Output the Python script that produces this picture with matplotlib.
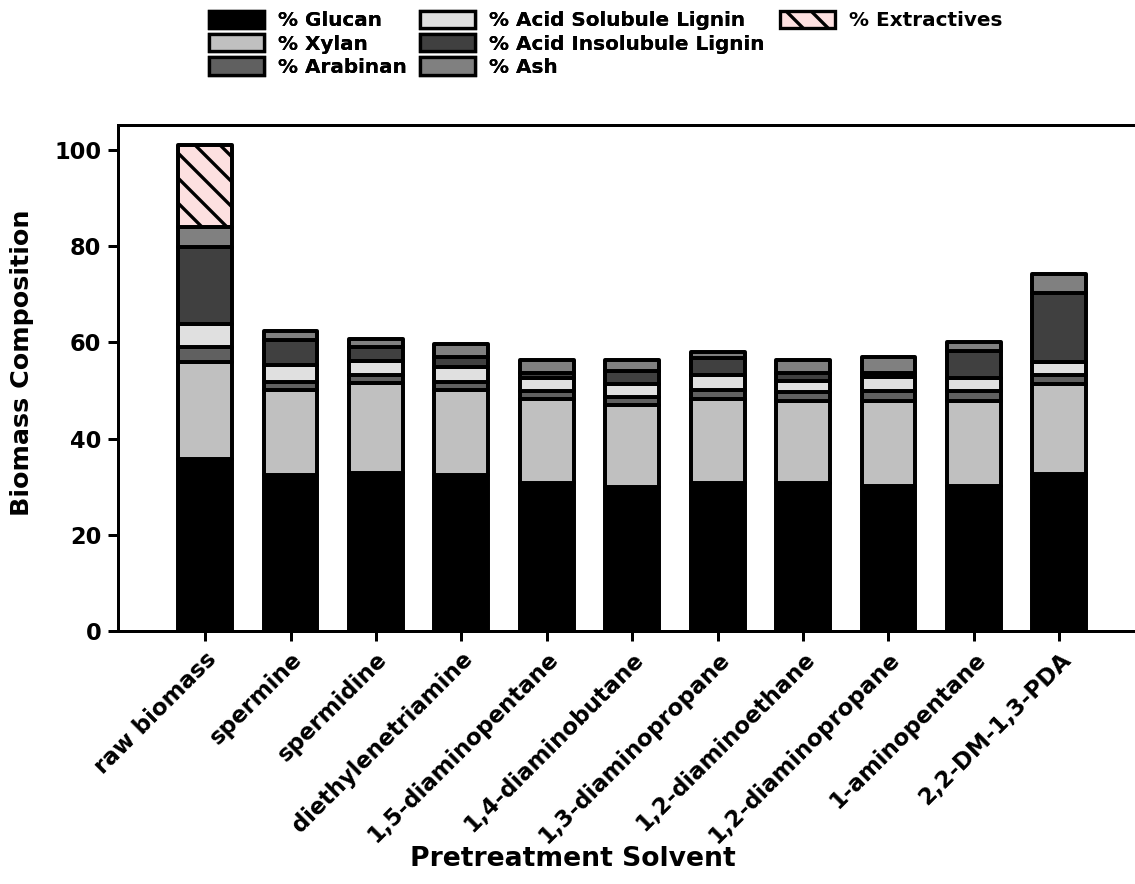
import matplotlib
matplotlib.use("Agg")
import matplotlib.pyplot as plt
import matplotlib.transforms as mtransforms
import numpy as np
from matplotlib.patches import Patch

categories = ['raw biomass', 'spermine', 'spermidine', 'diethylenetriamine',
              '1,5-diaminopentane', '1,4-diaminobutane', '1,3-diaminopropane',
              '1,2-diaminoethane', '1,2-diaminopropane', '1-aminopentane',
              '2,2-DM-1,3-PDA']
glucan = [35.7, 32.4, 32.8, 32.5, 30.8, 30.0, 30.8, 30.7, 30.2, 30.2, 32.6]
xylan = [20.2, 17.7, 18.7, 17.7, 17.5, 17.0, 17.5, 17.2, 17.7, 17.7, 18.7]
arabinan = [3.1, 1.7, 1.7, 1.6, 1.7, 1.7, 1.8, 1.7, 1.9, 1.9, 1.9]
acid_sol_lignin = [4.8, 3.6, 3.0, 3.1, 2.7, 2.6, 3.2, 2.3, 3.1, 2.9, 2.8]
acid_insol_lignin = [16.1, 5.1, 2.9, 2.1, 1.0, 2.8, 3.4, 1.8, 0.8, 5.6, 14.2]
ash = [4.0, 1.8, 1.6, 2.7, 2.6, 2.3, 1.4, 2.7, 3.3, 1.7, 4.0]
extractives = [17.1, 0, 0, 0, 0, 0, 0, 0, 0, 0, 0]

series_names = ['% Glucan', '% Xylan', '% Arabinan', '% Acid Solubule Lignin',
                '% Acid Insolubule Lignin', '% Ash', '% Extractives']
series = [glucan, xylan, arabinan, acid_sol_lignin, acid_insol_lignin, ash, extractives]
colors = ['#000000', '#C0C0C0', '#606060', '#E0E0E0', '#404040', '#808080', '#FDE0E0']
hatches = [None, None, None, None, None, None, '\\\\']

DPI = 150
W, H = 1135, 884
plt.rcParams['font.family'] = ['DejaVu Sans']
plt.rcParams['font.weight'] = 'bold'
plt.rcParams['hatch.linewidth'] = 1.6
plt.rcParams['hatch.color'] = 'black'

fig = plt.figure(figsize=(W / DPI, H / DPI), dpi=DPI)
ax = fig.add_axes([118 / W, 1 - 631 / H, (1137 - 118) / W, (631 - 125) / H])

x = np.arange(len(categories))
bottom = np.zeros(len(categories))
lw = 1.9
handles = []
for name, vals, c, h in zip(series_names, series, colors, hatches):
    vals = np.array(vals, dtype=float)
    mask = vals > 0
    ax.bar(x[mask], vals[mask], bottom=bottom[mask], width=0.63, color=c,
           edgecolor='black', linewidth=lw, hatch=h, joinstyle='round', zorder=3)
    bottom += vals
    handles.append(Patch(facecolor=c, edgecolor='black', linewidth=1.6,
                         hatch=h, label=name))

ax.set_xlim(-1.02, 10.91)
ax.set_ylim(0, 105.2)
ax.set_yticks([0, 20, 40, 60, 80, 100])
ax.set_xticks(x)
ax.set_xticklabels(categories, rotation=45, ha='right', va='top',
                   rotation_mode='anchor', fontsize=11, fontweight='bold')
offset = mtransforms.ScaledTranslation(0 / DPI, -3 / DPI, fig.dpi_scale_trans)
for lab in ax.get_xticklabels():
    lab.set_transform(lab.get_transform() + offset)
for lab in ax.get_yticklabels():
    lab.set_fontsize(10.8)
    lab.set_fontweight('bold')
ax.tick_params(axis='both', direction='out', length=4.8, width=1.44, pad=3.2)
for s in ax.spines.values():
    s.set_linewidth(1.44)

ax.set_xlabel('Pretreatment Solvent', fontsize=12.8, fontweight='bold')
ax.set_ylabel('Biomass Composition', fontsize=12.2, fontweight='bold')
ax.xaxis.set_label_coords(573 / W, 1 - 846 / H, transform=fig.transFigure)
ax.yaxis.set_label_coords(34 / W, 1 - 363 / H, transform=fig.transFigure)

leg_kw = dict(frameon=False, fontsize=9.6, handlelength=2.75, handleheight=0.95,
              handletextpad=0.72, labelspacing=0.185,
              borderpad=0, borderaxespad=0, loc='upper left')
legs = []
for hs, xpos in [(handles[0:3], 209), (handles[3:6], 420), (handles[6:7], 780)]:
    lg = fig.legend(handles=hs, ncol=1, bbox_to_anchor=(xpos / W, 1 - 11 / H), **leg_kw)
    for t in lg.get_texts():
        t.set_fontweight('bold')
    legs.append(lg)
for lg in legs[:-1]:
    fig.add_artist(lg)

fig.savefig('out.png', dpi=DPI)
